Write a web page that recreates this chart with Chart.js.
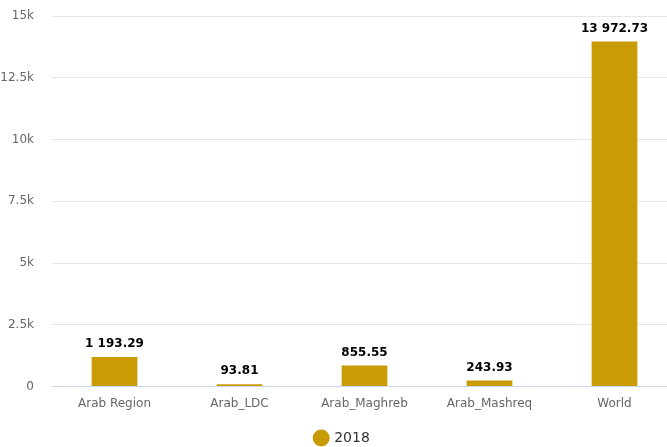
<!DOCTYPE html>
<html>
<head>
<meta charset="utf-8">
<script src="https://cdn.jsdelivr.net/npm/chart.js@4"></script>
<style>
  html, body { margin: 0; padding: 0; background: #fff; }
  #wrap { width: 667px; height: 447px; position: relative; }
</style>
</head>
<body>
<div id="wrap"><canvas id="chart"></canvas></div>
<script>
// data
const regions = ['Arab Region', 'Arab_LDC', 'Arab_Maghreb', 'Arab_Mashreq', 'World'];
const values2018 = [1193.29, 93.81, 855.55, 243.93, 13972.73];
const yTicks = [0, 2500, 5000, 7500, 10000, 12500, 15000];

const gold = '#c99c06';
const font = "'DejaVu Sans', Verdana, sans-serif";

function fmtNum(v) {
    const parts = v.toFixed(2).split('.');
    parts[0] = parts[0].replace(/\B(?=(\d{3})+(?!\d))/g, ' ');
    return parts.join('.');
}

function fmtTick(v) {
    if (v === 0) return '0';
    return (v / 1000) + 'k';
}

// the original plot runs a little past the right edge of the picture
const stretchX = {
    id: 'stretchX',
    afterLayout(chart) {
        const x = chart.scales.x;
        x.right += 10;
        x.width += 10;
        x.configure();
        chart.chartArea.right += 10;
        chart.chartArea.width += 10;
    }
};

// value labels above the bars
const barLabels = {
    id: 'barLabels',
    afterDatasetsDraw(chart) {
        const ctx = chart.ctx;
        ctx.save();
        ctx.font = 'bold 12px ' + font;
        ctx.textAlign = 'center';
        ctx.textBaseline = 'bottom';
        ctx.lineJoin = 'round';
        chart.getDatasetMeta(0).data.forEach((bar, i) => {
            const txt = fmtNum(values2018[i]);
            ctx.lineWidth = 3;
            ctx.strokeStyle = '#fff';
            ctx.strokeText(txt, bar.x, bar.y - 7);
            ctx.fillStyle = '#000';
            ctx.fillText(txt, bar.x, bar.y - 7);
        });
        ctx.restore();
    }
};

new Chart(document.getElementById('chart'), {
    type: 'bar',
    data: {
        labels: regions,
        datasets: [{
            label: '2018',
            data: values2018,
            backgroundColor: gold,
            borderWidth: 0,
            categoryPercentage: 1,
            barPercentage: 0.366
        }]
    },
    options: {
        responsive: true,
        maintainAspectRatio: false,
        animation: false,
        layout: { padding: { top: 16, right: -18, left: 0, bottom: -8 } },
        plugins: {
            legend: {
                position: 'bottom',
                labels: {
                    usePointStyle: true,
                    pointStyle: 'circle',
                    boxWidth: 12,
                    boxHeight: 12,
                    color: '#333',
                    padding: 3,
                    font: { family: font, size: 14 }
                }
            },
            tooltip: { enabled: false }
        },
        scales: {
            x: {
                grid: { display: false, drawTicks: false },
                border: { color: '#ccd6eb' },
                ticks: { color: '#666', padding: 10, font: { family: font, size: 12 } },
                afterFit: axis => { axis.height += 7; }
            },
            y: {
                min: 0,
                max: 15000,
                afterBuildTicks: axis => { axis.ticks = yTicks.map(v => ({ value: v })); },
                afterFit: axis => {
                    axis.width = 52;
                    axis.paddingTop = 7;
                    axis.paddingBottom = 7;
                },
                grid: { color: '#e6e6e6', drawTicks: false },
                border: { display: false },
                ticks: {
                    color: '#666',
                    padding: 18,
                    font: { family: font, size: 12 },
                    callback: v => fmtTick(v)
                }
            }
        }
    },
    plugins: [stretchX, barLabels]
});
</script>
</body>
</html>
